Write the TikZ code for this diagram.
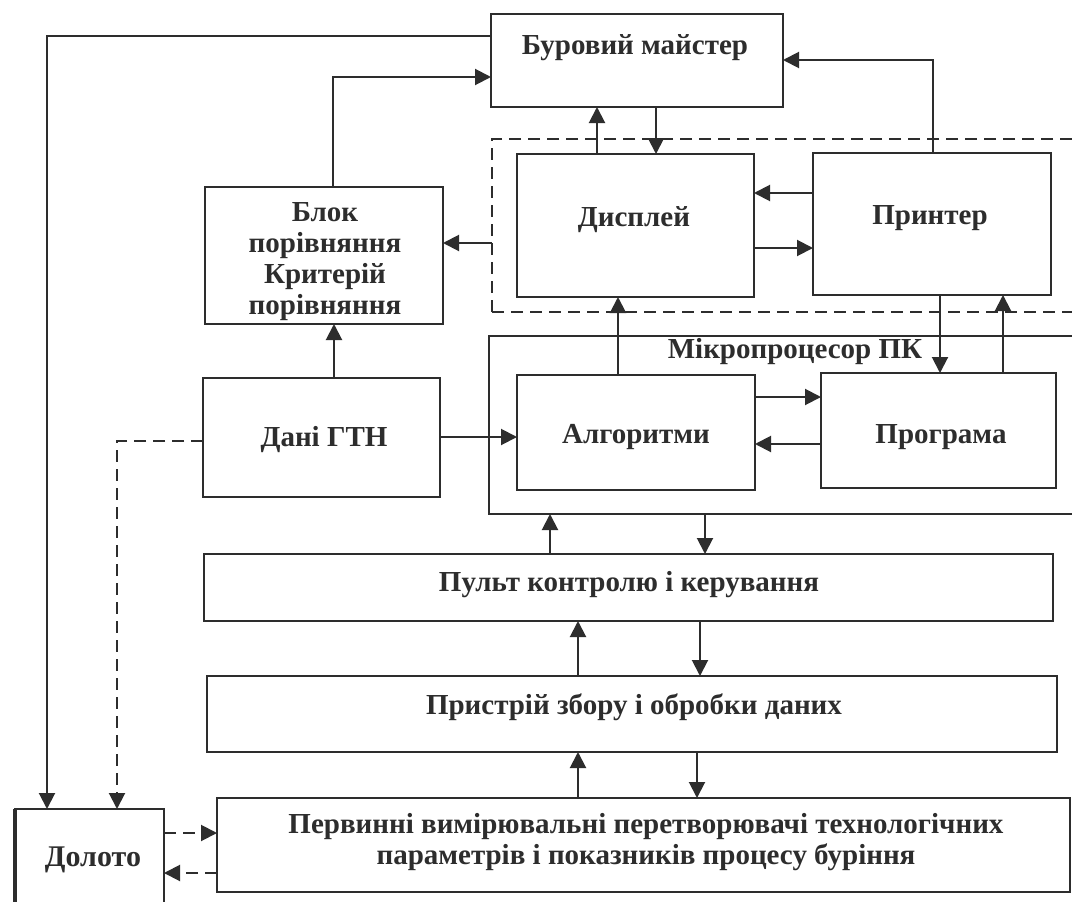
\documentclass[tikz,border=0pt]{standalone}
\usepackage{fontspec}
\setmainfont{Liberation Serif}
\usetikzlibrary{arrows.meta}
\definecolor{ink}{RGB}{45,45,45}
\begin{document}
\begin{tikzpicture}[x=1pt,y=-1pt,
  box/.style={draw=ink, line width=2pt, inner sep=0pt, outer sep=0pt},
  lbl/.style={text=ink, font=\fontsize{29}{32}\selectfont\bfseries, inner sep=0pt, align=center},
  arr/.style={draw=ink, line width=2pt, -{Triangle[length=16pt,width=16pt]}},
  dsh/.style={dash pattern=on 12pt off 7pt}]
\clip (0,0) rectangle (1072,902);
\fill[white] (0,0) rectangle (1072,902);
% boxes
\node[box, minimum width=292pt, minimum height=93pt] (bur) at (637,60.5) {};
\node[box, dsh, minimum width=593pt, minimum height=173pt] (grp) at (788.5,225.5) {};
\node[box, minimum width=237pt, minimum height=143pt] (disp) at (635.5,225.5) {};
\node[box, minimum width=238pt, minimum height=142pt] (prn) at (932,224) {};
\node[box, minimum width=238pt, minimum height=137pt] (blok) at (324,255.5) {};
\node[box, minimum width=596pt, minimum height=178pt] (micro) at (787,425) {};
\node[box, minimum width=238pt, minimum height=115pt] (algo) at (636,432.5) {};
\node[box, minimum width=235pt, minimum height=115pt] (prog) at (938.5,430.5) {};
\node[box, minimum width=237pt, minimum height=119pt] (dani) at (321.5,437.5) {};
\node[box, minimum width=849pt, minimum height=67pt] (pult) at (628.5,587.5) {};
\node[box, minimum width=850pt, minimum height=76pt] (prist) at (632,714) {};
\node[box, minimum width=853pt, minimum height=94pt] (perv) at (643.5,845) {};
\node[box, minimum width=149pt, minimum height=106pt] (dol) at (89.5,862) {};
\draw[ink, line width=4.5pt] (dol.north west) -- (dol.south west);
% labels
\node[lbl] (tbur) at (635,48) {Буровий майстер};
\node[lbl] (tdisp) at (634,220) {Дисплей};
\node[lbl] (tprn) at (930,218) {Принтер};
\node[lbl, font=\fontsize{29}{31}\selectfont\bfseries] (tblok) at (325,262) {Блок\\порівняння\\Критерій\\порівняння};
\node[lbl] (tmicro) at (795,352) {Мікропроцесор ПК};
\node[lbl] (talgo) at (636,437) {Алгоритми};
\node[lbl] (tprog) at (941,437) {Програма};
\node[lbl] (tdani) at (324,440) {Дані ГТН};
\node[lbl] (tpult) at (629,585) {Пульт контролю і керування};
\node[lbl] (tprist) at (634,707) {Пристрій збору і обробки даних};
\node[lbl, font=\fontsize{29}{31}\selectfont\bfseries] (tperv) at (646,842) {Первинні вимірювальні перетворювачі технологічних\\параметрів і показників процесу буріння};
\node[lbl, font=\fontsize{30}{32}\selectfont\bfseries] (tdol) at (93,860) {Долото};
% connectors
\draw[arr] (bur.west |- 0,36) -| (47,0 |- dol.north);
\draw[arr] (333,0 |- blok.north) |- (bur.west |- 0,77);
\draw[arr] (933,0 |- prn.north) |- (bur.east |- 0,60);
\draw[arr] (597,0 |- disp.north) -- (597,0 |- bur.south);
\draw[arr] (656,0 |- bur.south) -- (656,0 |- disp.north);
\draw[arr] (prn.west |- 0,193) -- (disp.east |- 0,193);
\draw[arr] (disp.east |- 0,248) -- (prn.west |- 0,248);
\draw[arr] (grp.west |- 0,243) -- (blok.east |- 0,243);
\draw[arr] (334,0 |- dani.north) -- (334,0 |- blok.south);
\draw[arr] (dani.east |- 0,437) -- (algo.west |- 0,437);
\draw[arr,dsh] (dani.west |- 0,441) -| (117,0 |- dol.north);
\draw[arr] (618,0 |- algo.north) -- (618,0 |- disp.south);
\draw[arr] (940,0 |- prn.south) -- (940,0 |- prog.north);
\draw[arr] (1003,0 |- prog.north) -- (1003,0 |- prn.south);
\draw[arr] (algo.east |- 0,397) -- (prog.west |- 0,397);
\draw[arr] (prog.west |- 0,444) -- (algo.east |- 0,444);
\draw[arr] (550,0 |- pult.north) -- (550,0 |- micro.south);
\draw[arr] (705,0 |- micro.south) -- (705,0 |- pult.north);
\draw[arr] (578,0 |- prist.north) -- (578,0 |- pult.south);
\draw[arr] (700,0 |- pult.south) -- (700,0 |- prist.north);
\draw[arr] (578,0 |- perv.north) -- (578,0 |- prist.south);
\draw[arr] (697,0 |- prist.south) -- (697,0 |- perv.north);
\draw[arr,dsh] (dol.east |- 0,833) -- (perv.west |- 0,833);
\draw[arr,dsh] (perv.west |- 0,873) -- (dol.east |- 0,873);
\end{tikzpicture}
\end{document}
